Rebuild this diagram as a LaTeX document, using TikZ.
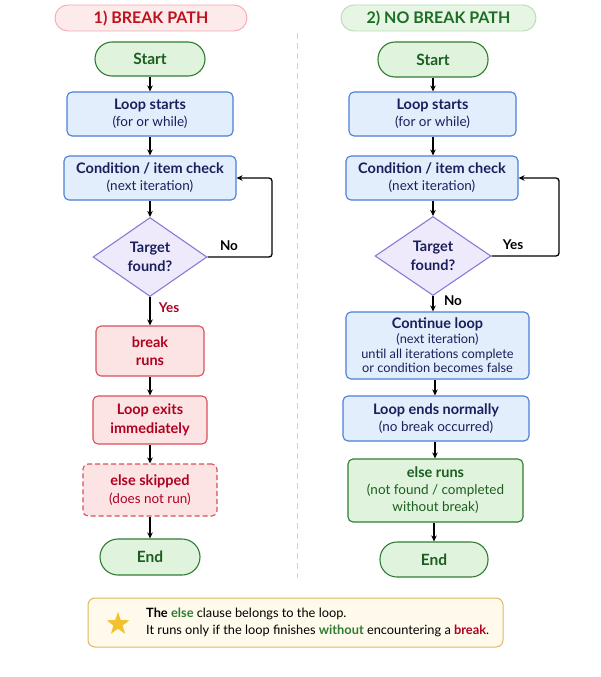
\documentclass[tikz,border=0pt]{standalone}
\usepackage{fontspec}
\setmainfont{Lato}
\usetikzlibrary{shapes.geometric,arrows.meta}
\definecolor{gfill}{HTML}{E0F3DC}
\definecolor{gdraw}{HTML}{2E7D32}
\definecolor{gtext}{HTML}{1B5E20}
\definecolor{bfill}{HTML}{E3EEFC}
\definecolor{bdraw}{HTML}{4A7FD6}
\definecolor{btext}{HTML}{1A1F5C}
\definecolor{dfill}{HTML}{EEEAFB}
\definecolor{ddraw}{HTML}{8A7BD6}
\definecolor{rfill}{HTML}{FDE4E4}
\definecolor{rdraw}{HTML}{D9505A}
\definecolor{rtext}{HTML}{B00020}
\definecolor{hrfill}{HTML}{FDEBEC}
\definecolor{hrdraw}{HTML}{F4AAB2}
\definecolor{hrtext}{HTML}{C0111F}
\definecolor{hgfill}{HTML}{E7F5E4}
\definecolor{hgdraw}{HTML}{B7DDB4}
\definecolor{hgtext}{HTML}{1B6E23}
\definecolor{nfill}{HTML}{FFFAEC}
\definecolor{ndraw}{HTML}{E0B860}
\definecolor{starc}{HTML}{F2C12E}
\tikzset{
  base/.style={inner sep=0pt, align=center, line width=1.1pt},
  pill/.style={base, draw=gdraw, fill=gfill, text=gtext, rounded corners=17pt, font=\fontsize{15.5}{18}\selectfont\bfseries},
  bluebox/.style={base, draw=bdraw, fill=bfill, text=btext, rounded corners=5pt, font=\fontsize{13.5}{17}\selectfont},
  redbox/.style={base, draw=rdraw, fill=rfill, text=rtext, rounded corners=5pt, font=\fontsize{14.5}{18.5}\selectfont\bfseries},
  greenbox/.style={base, draw=gdraw, fill=gfill, text=gtext, rounded corners=5pt, font=\fontsize{13.5}{17}\selectfont},
  decision/.style={base, shape=diamond, draw=ddraw, fill=dfill, text=btext, font=\fontsize{14.5}{18.5}\selectfont\bfseries},
  headr/.style={base, draw=hrdraw, fill=hrfill, text=hrtext, rounded corners=13pt, line width=0.9pt, font=\fontsize{16}{18}\selectfont\bfseries},
  headg/.style={base, draw=hgdraw, fill=hgfill, text=hgtext, rounded corners=13pt, line width=0.9pt, font=\fontsize{16}{18}\selectfont\bfseries},
  arr/.style={line width=1.3pt, -{Stealth[length=6pt,width=5.5pt]}},
  lbl/.style={inner sep=0pt, font=\fontsize{13.5}{16}\selectfont\bfseries},
}
\newcommand{\tb}[1]{{\fontsize{14.5}{17}\selectfont\bfseries #1}}
\begin{document}
\begin{tikzpicture}[x=1pt,y=-1pt]
\useasboundingbox[fill=white] (0,0) rectangle (600,677);
% headers
\node[headr, minimum width=192pt, minimum height=26pt] (hL) at (151,18) {1) BREAK PATH};
\node[headg, minimum width=195pt, minimum height=26pt] (hR) at (438.5,18) {2) NO BREAK PATH};
% separator
\coordinate (sepT) at (297,33);
\coordinate (sepB) at (297,578);
\draw[gray!35, line width=1pt, dash pattern=on 6pt off 4pt] (sepT) -- (sepB);
% left column
\node[pill, minimum width=110pt, minimum height=34pt] (sL) at (150,59) {Start};
\node[bluebox, minimum width=166pt, minimum height=44pt] (lsL) at (150,114) {\tb{Loop starts}\\(for or while)};
\node[bluebox, minimum width=172pt, minimum height=44pt] (cL) at (150,178) {\tb{Condition / item check}\\(next iteration)};
\node[decision, minimum width=114pt, minimum height=79pt] (dL) at (150,257) {Target\\found?};
\node[redbox, minimum width=108pt, minimum height=50pt] (bL) at (150,351) {break\\runs};
\node[redbox, minimum width=114pt, minimum height=48pt] (eL) at (150,420) {Loop exits\\immediately};
\node[redbox, dashed, dash pattern=on 5pt off 3pt, minimum width=134pt, minimum height=52pt, font=\fontsize{13.5}{18}\selectfont] (skL) at (150,490) {\tb{else skipped}\\(does not run)};
\node[pill, minimum width=100pt, minimum height=36pt, rounded corners=18pt] (endL) at (150,557) {End};
\coordinate (kL) at (272,178);
\draw[arr] (sL.south) -- (lsL.north);
\draw[arr] (lsL.south) -- (cL.north);
\draw[arr] (cL.south) -- (dL.north);
\draw[arr, rounded corners=3pt] (dL.east) -- (dL.east -| kL) -- (kL) -- (cL.east);
\node[lbl] (noL) at (229,246) {No};
\draw[arr] (dL.south) -- (bL.north);
\node[lbl, text=rtext] (yesL) at (169,308) {Yes};
\draw[arr] (bL.south) -- (eL.north);
\draw[arr] (eL.south) -- (skL.north);
\draw[arr] (skL.south) -- (endL.north);
% right column
\node[pill, minimum width=110pt, minimum height=35pt] (sR) at (433,59.5) {Start};
\node[bluebox, minimum width=167pt, minimum height=44pt] (lsR) at (432.5,114) {\tb{Loop starts}\\(for or while)};
\node[bluebox, minimum width=172pt, minimum height=44pt] (cR) at (432,178) {\tb{Condition / item check}\\(next iteration)};
\node[decision, minimum width=116pt, minimum height=79pt] (dR) at (433,256) {Target\\found?};
\node[bluebox, minimum width=183pt, minimum height=67pt, font=\fontsize{12.8}{14.7}\selectfont] (coR) at (437.5,345.5) {\tb{Continue loop}\\(next iteration)\\until all iterations complete\\or condition becomes false};
\node[bluebox, minimum width=186pt, minimum height=45pt] (leR) at (436,418.5) {\tb{Loop ends normally}\\(no break occurred)};
\node[greenbox, minimum width=175pt, minimum height=63pt] (erR) at (435.5,490.5) {\tb{else runs}\\(not found / completed\\without break)};
\node[pill, minimum width=108pt, minimum height=35pt] (endR) at (434,559.5) {End};
\coordinate (kR) at (559,178);
\draw[arr] (sR.south) -- (sR.south |- lsR.north);
\draw[arr] (lsR.south -| sR.south) -- (sR.south |- cR.north);
\draw[arr] (cR.south -| dR.north) -- (dR.north);
\draw[arr, rounded corners=3pt] (dR.east) -- (dR.east -| kR) -- (kR) -- (cR.east);
\node[lbl] (yesR) at (513,245) {Yes};
\draw[arr] (dR.south) -- (dR.south |- coR.north);
\node[lbl] (noR) at (453,301) {No};
\draw[arr] (coR.south -| 435,0) -- (leR.north -| 435,0);
\draw[arr] (leR.south -| 435,0) -- (erR.north -| 435,0);
\draw[arr] (erR.south -| 434,0) -- (endR.north);
% note
\node[base, draw=ndraw, fill=nfill, rounded corners=7pt, line width=1pt, minimum width=415pt, minimum height=49pt] (note) at (295.5,622.5) {};
\node[star, star points=5, star point ratio=2.5, fill=starc, minimum size=24pt, inner sep=0pt] (st) at (118,624) {};
\node[anchor=west, inner sep=0pt, font=\fontsize{12.8}{15}\selectfont] (n1) at (146,614) {\textbf{The} \textcolor{gdraw}{\textbf{else}} clause belongs to the loop.};
\node[anchor=west, inner sep=0pt, font=\fontsize{12.8}{15}\selectfont] (n2) at (146,631) {It runs only if the loop finishes \textcolor{gdraw}{\textbf{without}} encountering a \textcolor{rtext}{\textbf{break}}.};
\end{tikzpicture}
\end{document}
